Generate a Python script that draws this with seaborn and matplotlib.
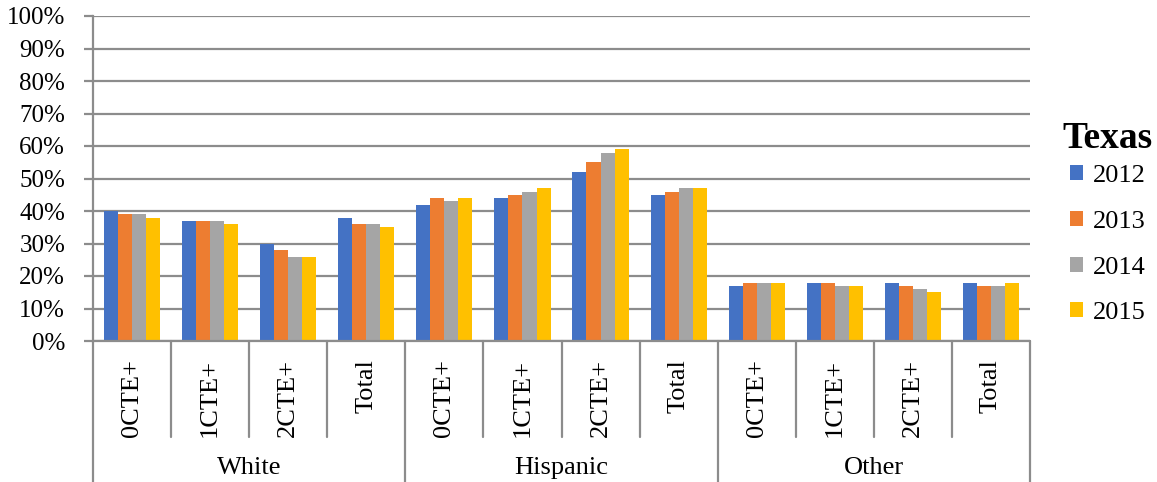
import matplotlib
matplotlib.use("Agg")
import matplotlib.pyplot as plt
import matplotlib.transforms as mtransforms
from matplotlib.patches import Patch
from matplotlib.ticker import PercentFormatter
import numpy as np
import pandas as pd
import seaborn as sns

# Data: share of students (%) by group, CTE concentration level and year
groups = ["White", "Hispanic", "Other"]
levels = ["0CTE+", "1CTE+", "2CTE+", "Total"]
years = ["2012", "2013", "2014", "2015"]
values_2012 = [40, 37, 30, 38, 42, 44, 52, 45, 17, 18, 18, 18]
values_2013 = [39, 37, 28, 36, 44, 45, 55, 46, 18, 18, 17, 17]
values_2014 = [39, 37, 26, 36, 43, 46, 58, 47, 18, 17, 16, 17]
values_2015 = [38, 36, 26, 35, 44, 47, 59, 47, 18, 17, 15, 18]
colors = ["#4472C4", "#ED7D31", "#A5A5A5", "#FFC000"]

series = [values_2012, values_2013, values_2014, values_2015]
cats = [f"{g}|{l}" for g in groups for l in levels]
rows = []
for yr, vals in zip(years, series):
    for c, v in zip(cats, vals):
        rows.append({"cat": c, "year": yr, "value": v})
df = pd.DataFrame(rows)

sns.set_theme(style="white")
plt.rcParams["font.family"] = ["Liberation Serif", "DejaVu Serif"]
plt.rcParams["text.color"] = "black"

GRID = "#8c8c8c"
fig = plt.figure(figsize=(11.57, 4.82), dpi=100)
ax = fig.add_axes([93 / 1157, 1 - 341 / 482, (1030 - 93) / 1157, (341 - 16) / 482])

sns.barplot(data=df, x="cat", y="value", hue="year", order=cats,
            palette=colors, saturation=1, width=0.72, gap=0, linewidth=0,
            ax=ax, legend=False, errorbar=None)

ax.set_ylim(0, 100)
ax.set_xlim(-0.5, len(cats) - 0.5)
ax.set_yticks(np.arange(0, 101, 10))
ax.yaxis.set_major_formatter(PercentFormatter(decimals=0))
ax.tick_params(axis="y", labelsize=18, length=6.5, width=1.6, color=GRID,
               direction="out", left=True, pad=13.5, labelcolor="black")
ax.set_xticks([])
ax.set_xlabel("")
ax.set_ylabel("")
ax.grid(axis="y", color=GRID, linewidth=1.6)
ax.set_axisbelow(True)
for side in ["top", "right", "bottom"]:
    ax.spines[side].set_visible(False)
ax.spines["left"].set_color(GRID)
ax.spines["left"].set_linewidth(1.6)

# Multi-level category axis drawn beneath the plot
trans = mtransforms.blended_transform_factory(ax.transData, fig.transFigure)
line_kw = dict(color=GRID, linewidth=1.6, transform=trans, clip_on=False)
y_axis = 1 - 341 / 482
y_inner = 1 - 437 / 482
y_outer = 0.0
ax.add_line(plt.Line2D([-0.5, len(cats) - 0.5], [y_axis, y_axis], **line_kw))
for i in range(len(cats) + 1):
    x = i - 0.5
    bottom = y_outer if i % len(levels) == 0 else y_inner
    ax.add_line(plt.Line2D([x, x], [y_axis, bottom], **line_kw))

for i, c in enumerate(cats):
    lvl = c.split("|")[1]
    ax.text(i, 1 - 359 / 482, lvl, transform=trans, rotation=90,
            ha="center", va="top", fontsize=19)
for gi, g in enumerate(groups):
    xc = gi * len(levels) + (len(levels) - 1) / 2
    ax.text(xc, 1 - 468 / 482, g, transform=trans, ha="center",
            va="center", fontsize=19)

# Legend: bold title plus one square swatch per year
fig.text(1062 / 1157, 1 - 139 / 482, "Texas", fontsize=27, fontweight="bold",
         ha="left", va="center")
handles = [Patch(facecolor=col, edgecolor="none", label=yr)
           for col, yr in zip(colors, years)]
fig.legend(handles=handles, loc="upper left",
           bbox_to_anchor=(1070 / 1157, 1 - 165 / 482), frameon=False,
           fontsize=19, handlelength=0.5, handleheight=0.5, handletextpad=0.35,
           labelspacing=0.9, borderpad=0, borderaxespad=0)

fig.savefig("out.png", dpi=100)
